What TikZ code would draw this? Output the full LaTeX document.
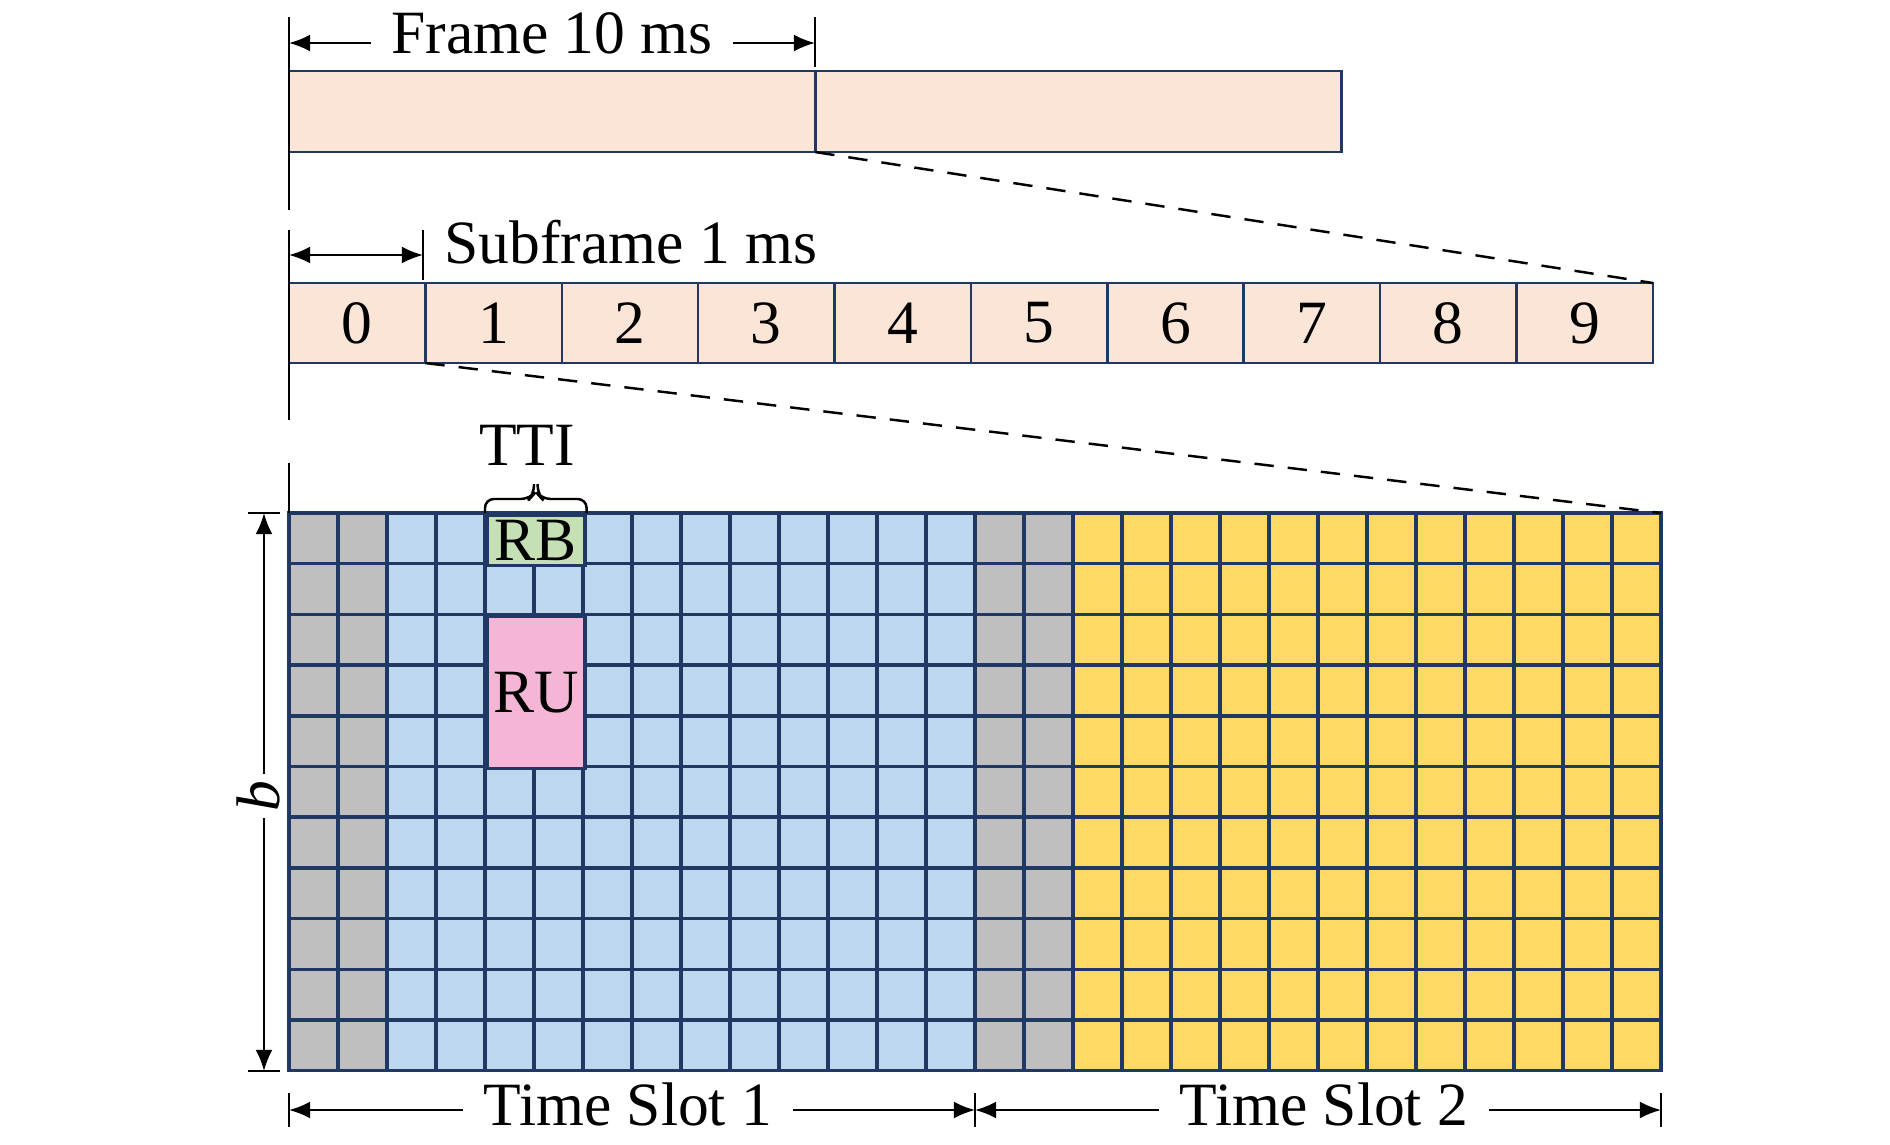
\documentclass[tikz,border=0pt]{standalone}
\usepackage{fontspec}
\setmainfont{Liberation Serif}
\usetikzlibrary{arrows.meta,positioning}

\definecolor{framefill}{HTML}{FBE5D6}
\definecolor{gridline}{HTML}{1F3864}
\definecolor{ctrlgray}{HTML}{BFBFBF}
\definecolor{slotblue}{HTML}{BDD7EE}
\definecolor{slotyellow}{HTML}{FFD966}
\definecolor{rbgreen}{HTML}{C5E0B4}
\definecolor{rupink}{HTML}{F5B5D5}

\tikzset{
  frbox/.style={draw=gridline, line width=0.7pt, fill=framefill, inner sep=0pt, outer sep=0pt,
    minimum width=5.26cm, minimum height=0.81cm},
  sfbox/.style={frbox, minimum width=1.363cm, minimum height=0.80cm},
  cell/.style={draw=gridline, line width=1pt},
  dim/.style={line width=0.6pt},
  ext/.style={line width=0.7pt},
  lbl/.style={inner xsep=0.2cm, inner ysep=0pt},
  zoomline/.style={dash pattern=on 5.5pt off 4pt, line width=0.7pt},
  bracket/.style={line width=0.7pt, rounded corners=2.5pt}
}

\begin{document}
\begin{tikzpicture}[x=0.01cm, y=-0.01cm, >={Latex[length=6pt,width=4.8pt]},
  every node/.style={font=\fontsize{17.5}{21}\selectfont}]
  \useasboundingbox (0,0) rectangle (1890,1144);

  % frame
  \node[frbox, anchor=north west] (fr1) at (289,71) {};
  \node[frbox, right=0pt of fr1] (fr2) {};
  \draw[ext] (289,17) -- (289,210);
  \draw[ext] (815,17) -- (815,67);
  \coordinate (fa0) at (289,43);
  \coordinate (fa1) at (815,43);
  \node[lbl, anchor=base] (frlbl) at (552,53) {Frame 10 ms};
  \draw[dim,<-] (fa0) -- (frlbl.west |- fa0);
  \draw[dim,->] (frlbl.east |- fa0) -- (fa1);

  % subframes
  \node[sfbox, anchor=north west] (s0) at (289,283) {0};
  \foreach \i [count=\j from 0] in {1,...,9}
    \node[sfbox, right=0pt of s\j] (s\i) {\i};
  \draw[ext] (289,230) -- (289,420);
  \draw[ext] (423,230) -- (423,280);
  \coordinate (sa0) at (289,255);
  \coordinate (sa1) at (423,255);
  \draw[dim,<->] (sa0) -- (sa1);
  \node[inner sep=0pt, anchor=base west] (sflbl) at (444,263) {Subframe 1 ms};

  % resource grid
  \foreach \a/\b/\col in {0/1/ctrlgray,2/13/slotblue,14/15/ctrlgray,16/27/slotyellow}
    \foreach \c in {\a,...,\b}
      \foreach \r in {0,...,10}
        \draw[cell, fill=\col] ({289+49*\c},{513+50.7*\r}) rectangle ++(49,50.7);
  \node[cell, fill=rbgreen, inner sep=0pt, anchor=north west,
    minimum width=0.98cm, minimum height=0.507cm] (rb) at (485,513) {RB};
  \node[cell, fill=rupink, inner sep=0pt, anchor=north west,
    minimum width=0.98cm, minimum height=1.521cm] (ru) at (485,614.4) {RU};
  \coordinate (gtr) at (1661,513);
  \draw[ext] (289,463) -- (289,513);

  % zoom lines
  \draw[zoomline] (fr1.south east) -- (s9.north east);
  \draw[zoomline] (s0.south east) -- (gtr);

  % TTI
  \draw[bracket] (rb.north west) -- ++(0,-14) -- ++(44.5,0) -- ++(4.5,-5) -- ++(0,-10);
  \draw[bracket] (rb.north east) -- ++(0,-14) -- ++(-44.5,0) -- ++(-4.5,-5) -- ++(0,-10);
  \node[inner sep=0pt, anchor=base] (tti) at (527,465) {TTI};

  % bandwidth b
  \coordinate (bt) at (264,513);
  \coordinate (bb) at (264,1071);
  \draw[ext] (248,513) -- (280,513);
  \draw[ext] (248,1071) -- (280,1071);
  \draw[dim,<->] (bt) -- (bb);
  \node[fill=white, inner sep=2pt, rotate=90] (blbl) at (258,796) {\textit{b}};

  % time slots
  \draw[ext] (289,1093) -- (289,1127);
  \draw[ext] (975,1093) -- (975,1127);
  \draw[ext] (1661,1093) -- (1661,1127);
  \coordinate (t0) at (289,1110);
  \coordinate (t1) at (975,1110);
  \coordinate (t2) at (1661,1110);
  \node[lbl, anchor=base] (ts1) at (628,1125) {Time Slot 1};
  \node[lbl, anchor=base] (ts2) at (1324,1125) {Time Slot 2};
  \draw[dim,<-] (t0) -- (ts1.west |- t0);
  \draw[dim,->] (ts1.east |- t0) -- (t1);
  \draw[dim,<-] (t1) -- (ts2.west |- t1);
  \draw[dim,->] (ts2.east |- t1) -- (t2);
\end{tikzpicture}
\end{document}
